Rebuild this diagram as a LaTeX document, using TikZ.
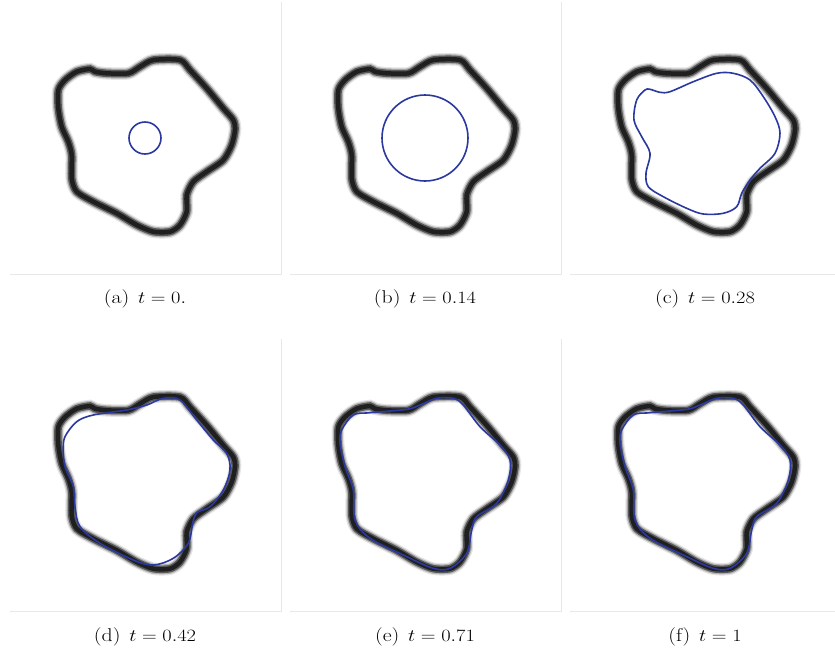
\documentclass[tikz,border=0pt]{standalone}
\usepackage{graphicx}
\definecolor{curveblue}{RGB}{42,56,160}
\definecolor{framegray}{RGB}{230,232,234}
\tikzset{
  blurA/.style={draw=black!10, line width=12.5pt},
  blurB/.style={draw=black!30, line width=10pt},
  blurC/.style={draw=black!65, line width=7.5pt},
  blurD/.style={draw=black!88, line width=4.5pt},
  bluecurve/.style={draw=curveblue, line width=1.6pt},
  framestyle/.style={draw=framegray, line width=0.9pt},
  captext/.style={font=\fontsize{18.5}{21}\selectfont, inner sep=0pt}
}
\newcommand\blackshape{plot[smooth cycle, tension=0.45] coordinates {(58.3,90) (65,80) (76.7,71.7) (90,69) (95,71.7) (106.7,73.3) (128.3,73.3) (140,66.7) (153.3,60) (180,60) (190,70) (206.7,88.3) (223.3,108.3) (233.3,120) (235,130) (231.7,145) (223.3,160) (206.7,171.7) (193.3,181.7) (186.7,195) (186.7,211.7) (180,225) (170,231.7) (153.3,231.7) (136.7,225) (116.7,213.3) (93.3,201.7) (76.7,191.7) (71.7,178.3) (71.7,155) (68.3,141.7) (61.7,126.7) (58.3,108.3)}}
\newcommand\finalshape{plot[smooth cycle, tension=0.55] coordinates {(61.7,93) (73.3,78) (90,75.7) (126.7,72.3) (140,68) (156.7,61.3) (173.3,61.3) (183.3,68) (200,89.7) (220,108) (230,123) (228.3,143) (216.7,166.3) (196.7,179.7) (191.7,193) (186.7,216.3) (170,231.3) (153.3,231.3) (123.3,218) (90,201.3) (75,183) (73.3,153) (65,129.7) (60,106.3)}}
\newcommand\panelbase[2]{%
  \begin{scope}[shift={(#1,#2)}]
    \draw[framestyle] (10,274) -- (281,274) -- (281,2);
    \draw[blurA] \blackshape;
    \draw[blurB] \blackshape;
    \draw[blurC] \blackshape;
    \draw[blurD] \blackshape;
  \end{scope}}
\begin{document}
\begin{tikzpicture}[x=1pt,y=-1pt]
\useasboundingbox (0,0) rectangle (835,654);
\fill[white] (0,0) rectangle (835,654);
\panelbase{0}{0}
\panelbase{280}{0}
\panelbase{560}{0}
\panelbase{0}{337}
\panelbase{280}{337}
\panelbase{560}{337}
% (a)
\draw[bluecurve] (145,138) circle[radius=16];
% (b)
\draw[bluecurve] (425,138) circle[radius=43];
% (c)
\begin{scope}[shift={(560,0)}]
\draw[bluecurve] plot[smooth cycle, tension=0.55] coordinates {(90,89.3) (100,92.3) (110,91.7) (133.3,81.7) (156.7,73.3) (173.3,73.3) (190,80) (203.3,96.7) (215,116.7) (220,133.3) (215,153.3) (200,168.3) (190,180) (181.7,193.3) (176.7,206.7) (163.3,213.3) (143.3,214) (126.7,208.3) (103.3,196.7) (88.3,186.7) (86,173.3) (90,153.3) (81.7,136.7) (74,120) (76.7,100) (85,90)};
\end{scope}
% (d)
\begin{scope}[shift={(0,337)}]
\draw[bluecurve] plot[smooth cycle, tension=0.55] coordinates {(65,99.7) (76.7,84.7) (93.3,78) (126.7,73) (146.7,68) (163.3,61.3) (180,63) (196.7,83) (213.3,103) (226.7,116.3) (230,133) (223.3,153) (210,169.7) (196.7,175.7) (192.7,186.3) (188.3,206.3) (173.3,221.3) (153.3,228) (133.3,223) (100,206.3) (80,189.7) (75,169.7) (73.3,149.7) (65,129.7) (63.3,113)};
\end{scope}
% (e)
\begin{scope}[shift={(280,337)}]
\draw[bluecurve] \finalshape;
\end{scope}
% (f)
\begin{scope}[shift={(560,337)}]
\draw[bluecurve] \finalshape;
\end{scope}
% captions
\node[captext] (capa) at (145,299) {\scalebox{1.18}[1]{(a)\hspace{0.4em}$t=0.$}};
\node[captext] (capb) at (425,299) {\scalebox{1.18}[1]{(b)\hspace{0.4em}$t=0.14$}};
\node[captext] (capc) at (705,299) {\scalebox{1.18}[1]{(c)\hspace{0.4em}$t=0.28$}};
\node[captext] (capd) at (145,637) {\scalebox{1.18}[1]{(d)\hspace{0.4em}$t=0.42$}};
\node[captext] (cape) at (425,637) {\scalebox{1.18}[1]{(e)\hspace{0.4em}$t=0.71$}};
\node[captext] (capf) at (705,637) {\scalebox{1.18}[1]{(f)\hspace{0.4em}$t=1$}};
\end{tikzpicture}
\end{document}
